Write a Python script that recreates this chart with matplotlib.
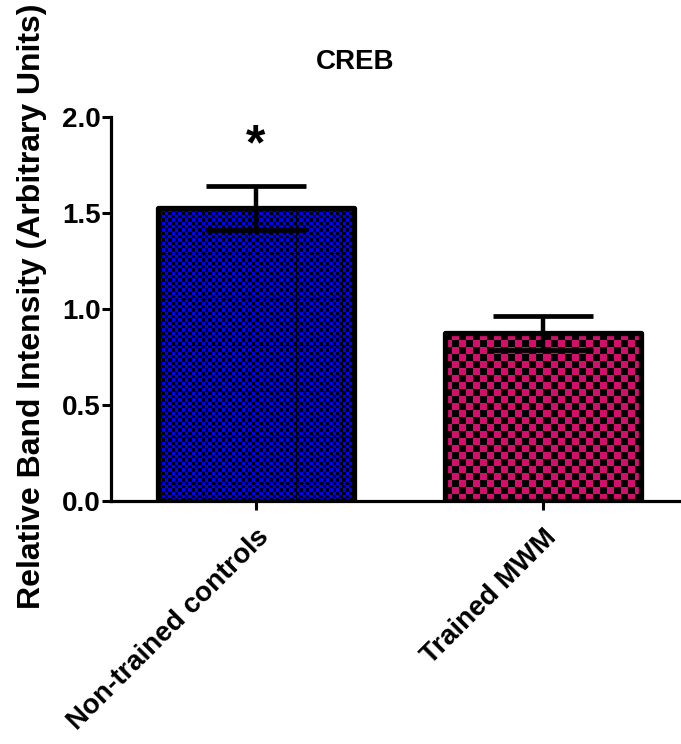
#!/usr/bin/env python3
"""CREB band intensity: non-trained controls vs. MWM-trained animals."""

import numpy as np
import matplotlib
matplotlib.use("Agg")
import matplotlib.pyplot as plt


GROUPS = ["Non-trained controls", "Trained MWM"]
MEANS = [1.525, 0.875]
SEM = [0.114, 0.09]
COLORS = ["#0000ff", "#d40f6b"]
CHECK_SIZE = [3.33, 7.0]      # checker cell size in pixels
SEAM_STEP = [46, None]        # faint seams in the fine checker
SIGNIF = ["*", ""]

plt.rcParams["font.family"] = ["Liberation Sans", "DejaVu Sans"]
plt.rcParams["font.weight"] = "bold"


def checker_rgba(w, h, cell, seam=None):
    """Black checker squares over a transparent background."""
    yy, xx = np.mgrid[0:h, 0:w]
    black = ((np.floor(xx / cell) + np.floor(yy / cell)) % 2) == 0
    if seam:
        black |= (xx % seam == seam - 1) | (yy % seam == seam - 1)
    img = np.zeros((h, w, 4))
    img[..., 3] = black.astype(float)
    return img


def build_chart(out_path):
    fig = plt.figure(figsize=(6.81, 7.44), dpi=100)
    ax = fig.add_axes([111 / 681, 243 / 744, 570 / 681, 384 / 744])

    x = np.arange(len(GROUPS))
    width = 0.683
    ax.set_xlim(-0.505, 1.481)
    ax.set_ylim(0, 2.0)

    fills = ax.bar(x, MEANS, width=width, color=COLORS, edgecolor="none", zorder=1)
    # checker texture, clipped to each bar
    for patch, cell, seam in zip(fills, CHECK_SIZE, SEAM_STEP):
        bb = patch.get_window_extent()
        img = checker_rgba(int(round(bb.width)), int(round(bb.height)), cell, seam)
        x0, y0 = patch.get_x(), patch.get_y()
        im = ax.imshow(img, extent=(x0, x0 + patch.get_width(), y0, y0 + patch.get_height()),
                       origin="upper", interpolation="nearest", aspect="auto", zorder=2)
        im.set_clip_path(patch)
    ax.bar(x, MEANS, width=width, fill=False, edgecolor="black", linewidth=3.8,
           zorder=3, joinstyle="round")

    ax.errorbar(x, MEANS, yerr=SEM, fmt="none", ecolor="black", elinewidth=3.2,
                capsize=36, capthick=3.4, zorder=4)

    for xi, m, s, mark in zip(x, MEANS, SEM, SIGNIF):
        if mark:
            ax.text(xi, m + s + 0.142, mark, ha="center", va="baseline",
                    fontsize=36, fontweight="bold")

    fig.text(355 / 681, 1 - 62 / 744, "CREB", ha="center", va="center",
             fontsize=20, fontweight="bold")
    ax.set_ylabel("Relative Band Intensity (Arbitrary Units)", fontsize=23,
                  fontweight="bold")
    ax.yaxis.set_label_coords(-0.112, 0.508)

    ax.set_yticks([0.0, 0.5, 1.0, 1.5, 2.0])
    ax.set_yticklabels(["0.0", "0.5", "1.0", "1.5", "2.0"], fontsize=20, fontweight="bold")
    ax.set_xticks(x)
    ax.set_xticklabels(GROUPS, rotation=45, ha="right", rotation_mode="anchor",
                       fontsize=20, fontweight="bold")

    for side in ["top", "right"]:
        ax.spines[side].set_visible(False)
    for side in ["left", "bottom"]:
        ax.spines[side].set_linewidth(2.3)
    ax.tick_params(axis="both", direction="out", length=6.5, width=2.2)
    ax.tick_params(axis="y", pad=1)
    ax.tick_params(axis="x", pad=10)

    fig.savefig(out_path, dpi=100)
    plt.close(fig)


if __name__ == "__main__":
    build_chart("out.png")
